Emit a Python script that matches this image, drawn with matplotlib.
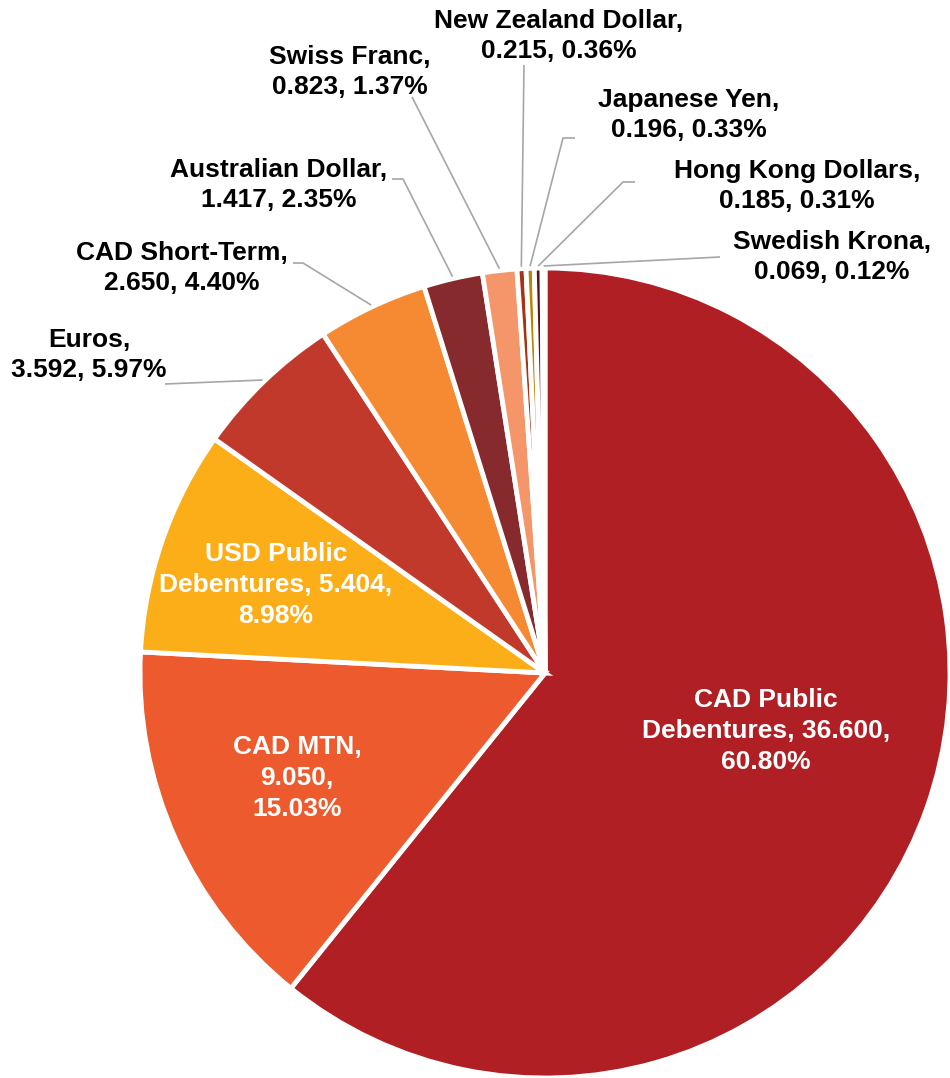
'''
pie of debt by currency / program
'''

import numpy as np
import matplotlib.pyplot as plt

names = ['CAD Public Debentures', 'CAD MTN', 'USD Public Debentures', 'Euros',
         'CAD Short-Term', 'Australian Dollar', 'Swiss Franc', 'New Zealand Dollar',
         'Japanese Yen', 'Hong Kong Dollars', 'Swedish Krona']
values = [36.600, 9.050, 5.404, 3.592, 2.650, 1.417, 0.823, 0.215, 0.196, 0.185, 0.069]
pcts = [60.80, 15.03, 8.98, 5.97, 4.40, 2.35, 1.37, 0.36, 0.33, 0.31, 0.12]
colors = ['#B01F24', '#EC5A2D', '#FBAE17', '#C0392B', '#F58A33', '#862A2E',
          '#F4956A', '#A83214', '#B8860B', '#5E1018', '#B01F24']

# label layout in pixel coords (y down): text centre, leader start, optional elbow
layout = [
    dict(xy=(766, 731), fmt='{a}\n{b}, {v},\n{p}', split=1, white=True),
    dict(xy=(297, 778), fmt='{n},\n{v},\n{p}', white=True),
    dict(xy=(276, 585), fmt='{a}\n{b}, {v},\n{p}', split=1, white=True),
    dict(xy=(89, 355), start=(165, 384)),
    dict(xy=(182, 268), start=(293, 263), elbow=(303, 263)),
    dict(xy=(279, 185), start=(392, 179), elbow=(403, 179)),
    dict(xy=(350, 72), start=(412, 97)),
    dict(xy=(559, 36), start=(524, 65)),
    dict(xy=(689, 115), start=(575, 138), elbow=(563, 138)),
    dict(xy=(797, 186), start=(635, 182), elbow=(623, 182)),
    dict(xy=(832, 257), start=(720, 257)),
]

W, H = 950, 1078
cx, cy, R = 545, 405, 405

fig = plt.figure(figsize=(9.5, 10.78), dpi=100)
ax = fig.add_axes([0, 0, 1, 1])

explode = [0.025] + [0] * (len(values) - 1)
wedges, _ = ax.pie(values, colors=colors, startangle=90, counterclock=False,
                   center=(cx, cy), radius=R, explode=explode,
                   wedgeprops=dict(edgecolor='white', linewidth=3.5),
                   frame=True)
ax.set_xlim(0, W)
ax.set_ylim(0, H)
ax.set_aspect('equal')
ax.axis('off')

def px(p):
    return p[0], H - p[1]

for i, (w, lay) in enumerate(zip(wedges, layout)):
    n, v, p = names[i], '%.3f' % values[i], '%.2f%%' % pcts[i]
    fmt = lay.get('fmt', '{n},\n{v}, {p}')
    words = n.split(' ')
    s = lay.get('split', 1)
    text = fmt.format(n=n, v=v, p=p, a=' '.join(words[:s + 1]), b=' '.join(words[s + 1:]))
    tx, ty = px(lay['xy'])
    ax.text(tx, ty, text, ha='center', va='center', fontsize=19, fontweight='bold',
            family='Liberation Sans', linespacing=1.35,
            color='white' if lay.get('white') else 'black')
    if 'start' in lay:
        ang = np.deg2rad((w.theta1 + w.theta2) / 2)
        ex, ey = cx + (R + 2) * np.cos(ang), cy + (R + 2) * np.sin(ang)
        pts = [px(lay['start'])]
        if 'elbow' in lay:
            pts.append(px(lay['elbow']))
        pts.append((ex, ey))
        xs, ys = zip(*pts)
        ax.plot(xs, ys, color='#A6A6A6', lw=1.2, solid_capstyle='butt')

fig.savefig('out.png', dpi=100)
